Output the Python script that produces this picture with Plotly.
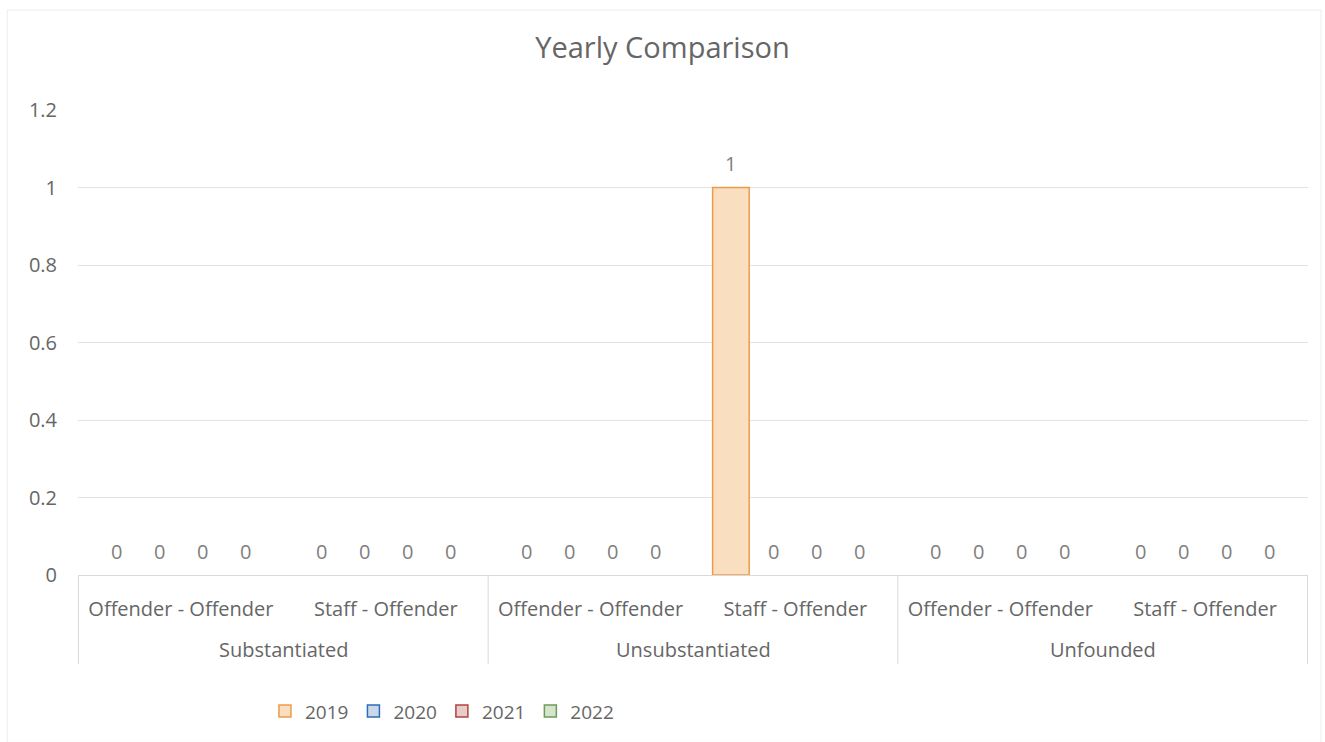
import plotly.graph_objects as go

groups = ["Substantiated", "Substantiated", "Unsubstantiated", "Unsubstantiated", "Unfounded", "Unfounded"]
subcats = ["Offender - Offender", "Staff - Offender"] * 3
years = ["2019", "2020", "2021", "2022"]
values = {
    "2019": [0, 0, 0, 1, 0, 0],
    "2020": [0, 0, 0, 0, 0, 0],
    "2021": [0, 0, 0, 0, 0, 0],
    "2022": [0, 0, 0, 0, 0, 0],
}
fills = {"2019": "#F9DEC0", "2020": "#CBD8EA", "2021": "#E9CBCA", "2022": "#D5E4CD"}
lines = {"2019": "#ED9B4A", "2020": "#2E6DB4", "2021": "#B04440", "2022": "#6E9A5A"}

gray = "#666666"
font = "Open Sans"
BARGAP = 0.16
keys = [f"{g}: {s}" for g, s in zip(groups, subcats)]

fig = go.Figure()
for y in years:
    fig.add_trace(go.Bar(
        name=y, x=keys, y=values[y], offsetgroup=y, showlegend=False,
        marker=dict(color=fills[y],
                    line=dict(color=lines[y], width=[1.5 if v > 0 else 0 for v in values[y]])),
    ))
# legend entries (share slot with the real bars)
for y in years:
    fig.add_trace(go.Bar(
        name=y, x=keys, y=[None] * len(keys), offsetgroup=y, showlegend=True,
        marker=dict(color=fills[y], line=dict(color=lines[y], width=1.5)),
    ))

annotations = []
# data labels, placed at each bar's slot within its category
n = len(years)
for k, y in enumerate(years):
    for i, v in enumerate(values[y]):
        annotations.append(dict(
            x=i + (k - (n - 1) / 2) * (1 - BARGAP) / n, xref="x", y=v, yref="y",
            text=str(v), showarrow=False, yanchor="middle", yshift=24,
            font=dict(size=20, color="#808080", family=font)))

# group labels and dividers
uniq = []
for g in groups:
    if g not in uniq:
        uniq.append(g)
for g in uniq:
    idx = [i for i, gg in enumerate(groups) if gg == g]
    annotations.append(dict(x=sum(idx) / len(idx), xref="x", y=-0.160, yref="paper",
                            text=g, showarrow=False, yanchor="middle",
                            font=dict(size=20, color=gray, family=font)))
shapes = []
bounds = [-0.5]
for i in range(1, len(groups)):
    if groups[i] != groups[i - 1]:
        bounds.append(i - 0.5)
bounds.append(len(groups) - 0.5)
for b in bounds:
    shapes.append(dict(type="line", xref="x", yref="paper", x0=b, x1=b, y0=0, y1=-0.192,
                       line=dict(color="#D9D9D9", width=1)))
shapes.append(dict(type="rect", xref="paper", yref="paper", x0=-0.0576, x1=1.0106, y0=-0.36, y1=1.215,
                   line=dict(color="#EDEDED", width=1), layer="below"))

fig.update_layout(
    width=1325, height=742,
    paper_bgcolor="white", plot_bgcolor="white",
    margin=dict(l=78, r=17, t=110, b=158),
    bargap=BARGAP, bargroupgap=0.15, barmode="group",
    title=dict(text="Yearly Comparison", x=0.5, xanchor="center", y=0.935, yanchor="middle",
               font=dict(size=29, color=gray, family=font)),
    font=dict(family=font, color=gray),
    legend=dict(orientation="h", x=0.152, xanchor="left", y=-0.293, yanchor="middle",
                font=dict(size=19, color=gray, family=font), tracegroupgap=0),
    annotations=annotations, shapes=shapes,
)
fig.update_yaxes(range=[0, 1.2001], dtick=0.2, showgrid=True, gridcolor="#E3E3E3", gridwidth=1,
                 zeroline=False, showline=False, tickfont=dict(size=20, color=gray, family=font),
                 ticks="", ticklabelstandoff=20, automargin=False)
fig.update_xaxes(type="category", tickvals=keys, ticktext=subcats, showline=True, linecolor="#D9D9D9",
                 linewidth=1, tickfont=dict(size=20, color=gray, family=font),
                 ticks="", ticklabelstandoff=16, automargin=False, showgrid=False)

fig.write_html("out.html", config={"displayModeBar": False},
               post_script="document.body.style.margin='0px';")
